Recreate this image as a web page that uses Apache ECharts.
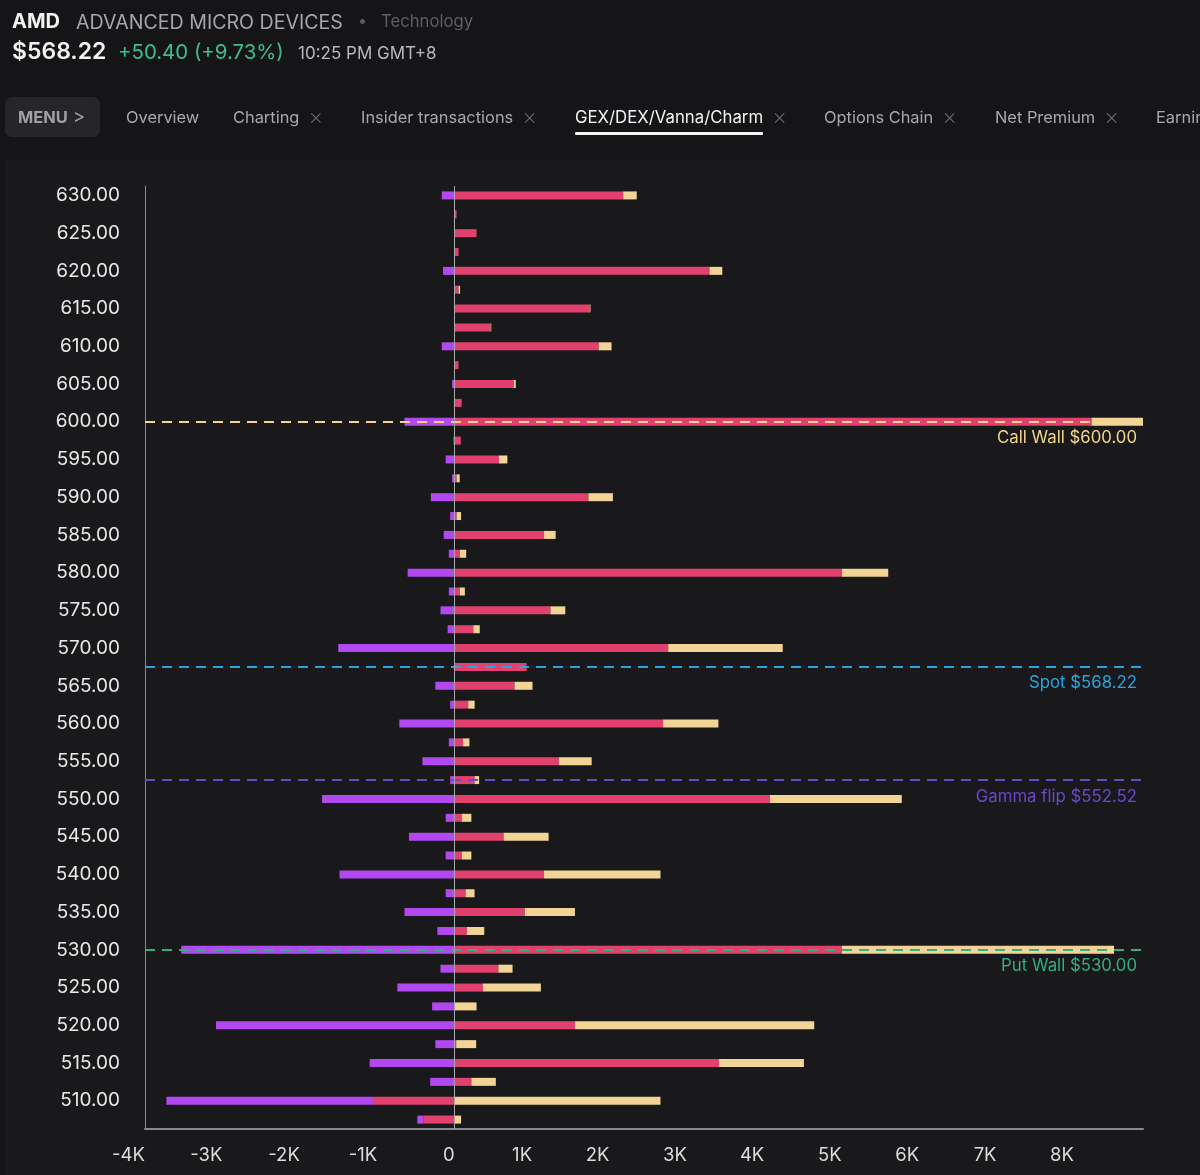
<!DOCTYPE html>
<html>
<head>
<meta charset="utf-8">
<script src="https://cdn.jsdelivr.net/npm/echarts@6/dist/echarts.min.js"></script>
<style>
  html, body { margin:0; padding:0; width:1200px; height:1175px; overflow:hidden; background:#151517; font-family: Inter, "Noto Sans", sans-serif; }
  #panel { position:absolute; left:5px; top:160px; width:1195px; height:1015px; background:#19191b; }
  #chart { position:absolute; left:0; top:0; width:1200px; height:1175px; }
  .hdr { position:absolute; white-space:nowrap; }
  .tab { position:absolute; top:105px; height:24px; line-height:24px; font-size:16.4px; color:#a9a9ad; white-space:nowrap; display:flex; align-items:center; }
  .x { display:inline-block; color:#6f6f73; font-size:23px; line-height:24px; height:24px; margin-left:9px; font-weight:200; }
</style>
</head>
<body>
<div id="panel"></div>
<div id="chart"></div>
<div class="hdr" style="left:12px;top:9px;font-size:20px;font-weight:700;color:#f2f2f2;">AMD</div>
<div class="hdr" style="left:76px;top:10px;font-size:19.6px;color:#a6a6aa;">ADVANCED MICRO DEVICES</div>
<div class="hdr" style="left:358px;top:10px;font-size:16px;color:#5d5d61;">•</div>
<div class="hdr" style="left:381px;top:11px;font-size:16.7px;color:#5f5f63;">Technology</div>
<div class="hdr" style="left:12px;top:37px;font-size:23px;font-weight:600;color:#f2f2f2;">$568.22</div>
<div class="hdr" style="left:118px;top:39px;font-size:20.4px;color:#3cbf86;">+50.40 (+9.73%)</div>
<div class="hdr" style="left:298px;top:43px;font-size:17px;color:#b9b9bd;">10:25 PM GMT+8</div>
<div class="hdr" style="left:5px;top:97px;width:95px;height:40px;border-radius:7px;background:#262629;"></div>
<div class="tab" style="left:18px;font-weight:700;color:#a0a0a4;">MENU<span style="font-weight:400;font-size:19px;margin-left:5px;">&gt;</span></div>
<div class="tab" style="left:126px;">Overview</div>
<div class="tab" style="left:233px;">Charting<span class="x">×</span></div>
<div class="tab" style="left:361px;">Insider transactions<span class="x">×</span></div>
<div class="tab" style="left:575px;color:#f4f4f4;font-size:16.8px;">GEX/DEX/Vanna/Charm<span class="x">×</span></div>
<div class="hdr" style="left:575px;top:132px;width:188px;height:3px;background:#f4f4f4;border-radius:1px;"></div>
<div class="tab" style="left:824px;">Options Chain<span class="x">×</span></div>
<div class="tab" style="left:995px;">Net Premium<span class="x">×</span></div>
<div class="tab" style="left:1156px;">Earnings</div>
<script>
// strikes from top (630) to bottom (507.5)
const strikes = [630,627.5,625,622.5,620,617.5,615,612.5,610,607.5,605,602.5,600,597.5,595,592.5,590,587.5,585,582.5,580,577.5,575,572.5,570,567.5,565,562.5,560,557.5,555,552.5,550,547.5,545,542.5,540,537.5,535,532.5,530,527.5,525,522.5,520,517.5,515,512.5,510,507.5];
const callGex = [2177,25,283,50,3291,50,1745,465,1861,50,765,91,8227,80,573,25,1728,25,1155,66,5003,66,1238,241,2759,930,773,175,2692,108,1346,258,4072,91,632,91,1155,141,906,158,5003,565,366,0,1554,20,3415,216,-1055,-399];
const putGex = [-166,0,0,0,-150,0,0,0,-166,0,-33,-10,-648,-15,-116,-33,-307,-58,-141,-75,-607,-75,-183,-91,-1504,0,-249,-58,-715,-75,-416,-58,-1712,-116,-590,-116,-1487,-116,-648,-224,-3532,-183,-740,-291,-3083,-249,-1097,-316,-2668,-83];
const netGex = [175,0,0,0,166,20,10,8,166,0,25,0,665,0,108,40,316,58,150,83,598,66,191,83,1479,0,233,83,715,83,424,58,1704,125,582,125,1504,116,648,224,3515,183,748,283,3091,258,1097,316,2659,83];
const levels = [
  {name:'Call Wall', value:600.00, color:'#f3d58e', lineColor:'#f3d58e'},
  {name:'Spot', value:568.22, color:'#2aa3e0', lineColor:'#2aa3e0'},
  {name:'Gamma flip', value:552.52, color:'#6a48cc', lineColor:'#6a48cc'},
  {name:'Put Wall', value:530.00, color:'#35ad7c', lineColor:'#35ad7c'}
];
const xTicks = {min:-4000, interval:1000};

const cats = strikes.slice().reverse().map(String);
const rev = a => a.slice().reverse();
function nearestIdx(v){
  let best=0, bd=Infinity;
  cats.forEach((c,i)=>{const d=Math.abs(Number(c)-v); if(d<bd){bd=d;best=i;}});
  return best;
}
const markData = levels.map(l => ({
  yAxis: nearestIdx(l.value),
  lineStyle:{color:l.lineColor, type:[10,7], width:2},
  label:{show:true, position:'insideEndBottom', formatter: l.name+' $'+l.value.toFixed(2), color:l.color, fontSize:16.8, fontFamily:'Inter', distance:[6,8]}
}));
markData.push({xAxis:0, lineStyle:{color:'#a8a8aa', type:'solid', width:1}, label:{show:false}});

const chart = echarts.init(document.getElementById('chart'), null, {renderer:'canvas'});
const barCommon = {type:'bar', stack:'gex', barWidth:8, emphasis:{disabled:true}, animation:false};
chart.setOption({
  backgroundColor:'transparent',
  animation:false,
  grid:{left:145, right:57, top:186, bottom:46, containLabel:false},
  xAxis:{
    type:'value', min:xTicks.min, max:'dataMax', interval:xTicks.interval,
    splitLine:{show:false},
    axisLine:{show:true, lineStyle:{color:'#8a8a8e', width:2}},
    axisTick:{show:false},
    axisLabel:{color:'#dcdcdc', fontSize:18.5, fontFamily:'Inter', align:'right', margin:17, showMaxLabel:false,
      formatter:v => v===0 ? '0' : (v/1000)+'K'}
  },
  yAxis:{
    type:'category', data:cats,
    axisLine:{show:true, onZero:false, lineStyle:{color:'#8a8a8e', width:1}},
    axisTick:{show:false},
    axisLabel:{color:'#e8e8e8', fontSize:19, fontFamily:'Inter', margin:25,
      interval:(i,v)=> Number(v)%5===0,
      formatter:v => Number(v).toFixed(2)}
  },
  series:[
    Object.assign({name:'Call GEX', data:rev(callGex), itemStyle:{color:'#e2416f'}}, barCommon),
    Object.assign({name:'Put GEX', data:rev(putGex), itemStyle:{color:'#b248ef'}}, barCommon),
    Object.assign({name:'Net GEX', data:rev(netGex), itemStyle:{color:'#f2d497'},
      markLine:{symbol:'none', silent:true, animation:false, data:markData}}, barCommon)
  ]
});
</script>
</body>
</html>
